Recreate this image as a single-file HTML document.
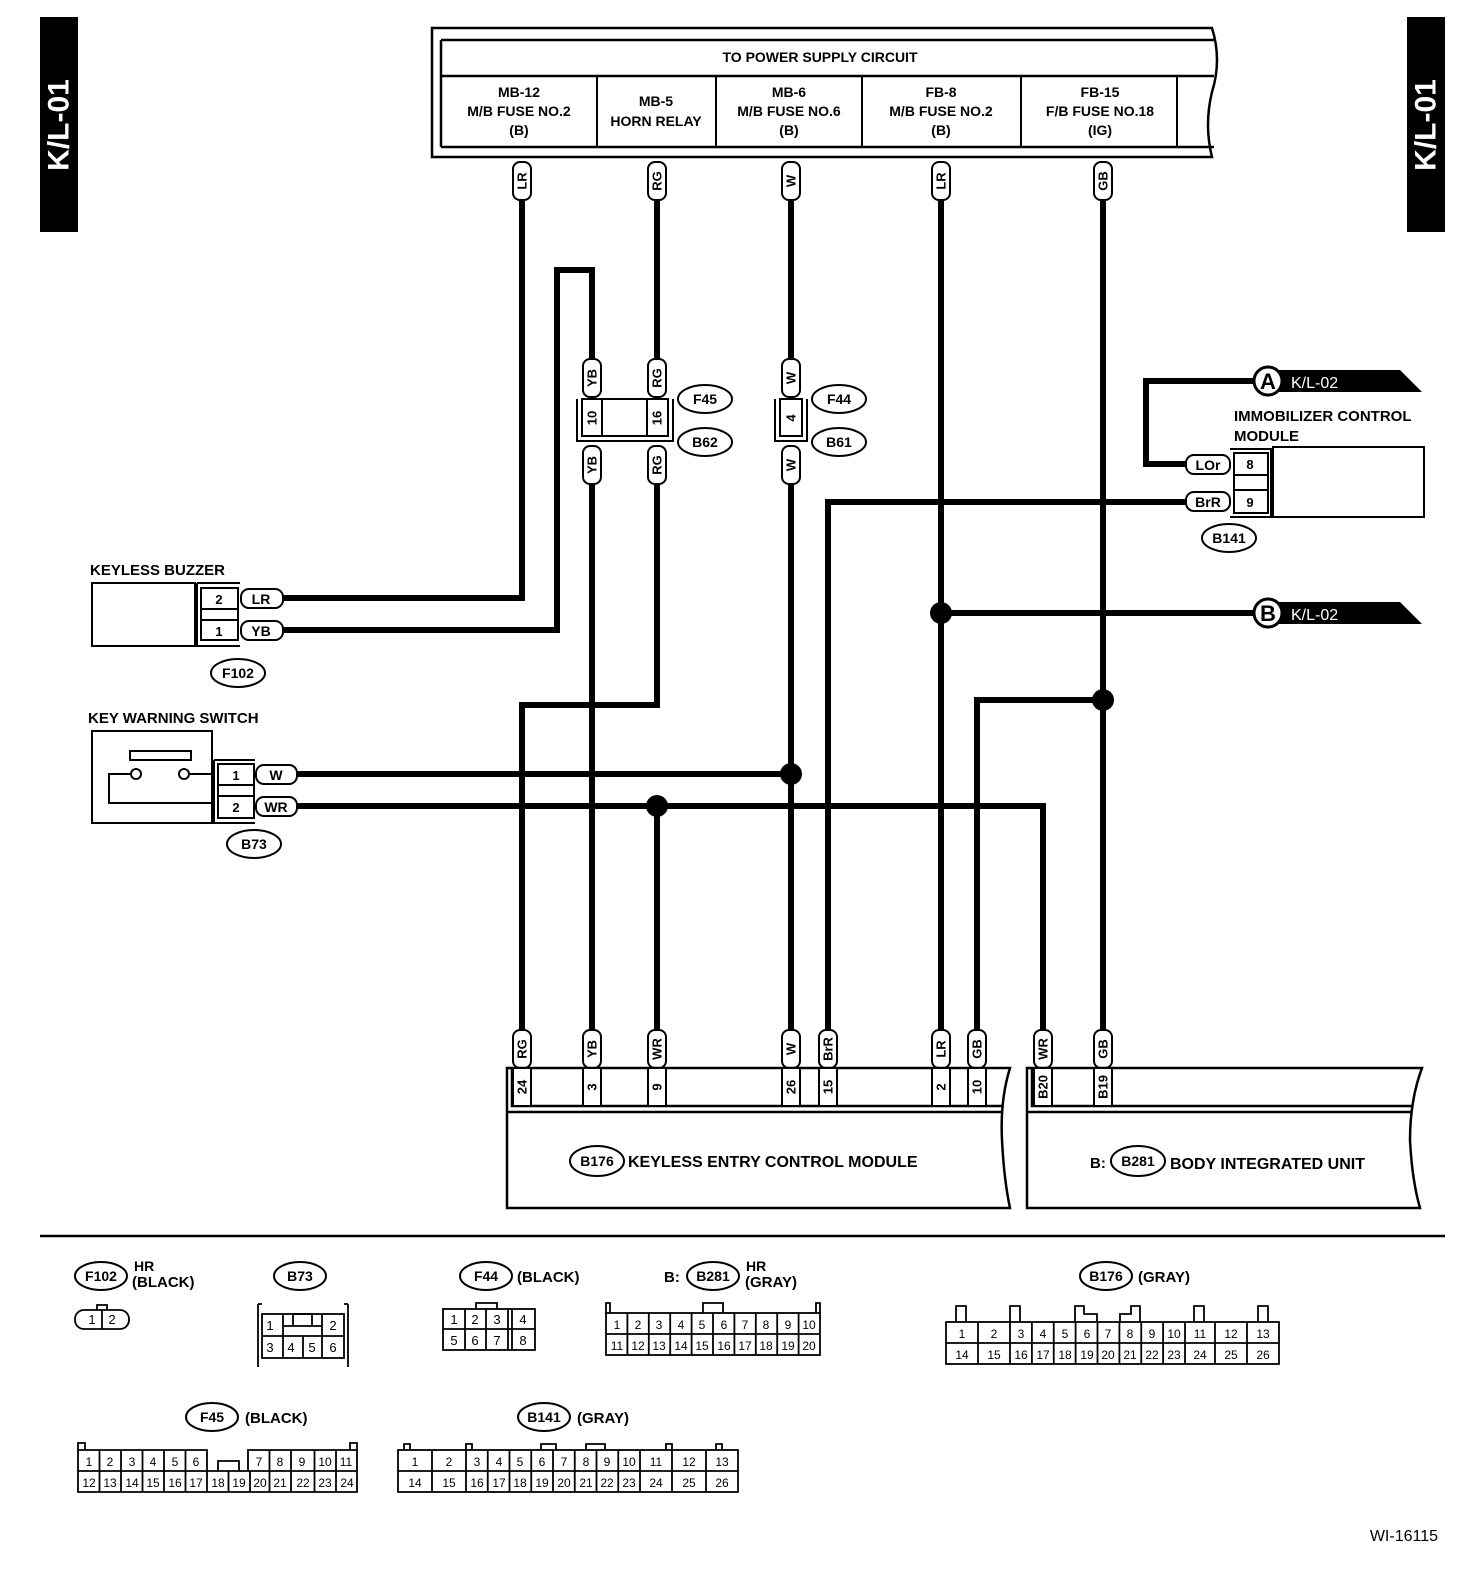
<!DOCTYPE html>
<html><head><meta charset="utf-8"><style>
html,body{margin:0;padding:0;background:#fff}
svg{display:block}
text{font-family:"Liberation Sans",Arial,sans-serif;fill:#000}
.b{font-weight:bold}
</style></head><body>
<svg width="1472" height="1576" viewBox="0 0 1472 1576" xmlns="http://www.w3.org/2000/svg">
<defs>
<g id="vp"><rect x="-9" y="-19" width="18" height="38" rx="7" fill="#fff" stroke="#000" stroke-width="2"/></g>
</defs>
<!-- tabs -->
<rect x="40" y="17" width="38" height="215" fill="#000"/>
<text transform="translate(59,125) rotate(-90)" text-anchor="middle" dominant-baseline="central" font-size="30" class="b" style="fill:#fff">K/L-01</text>
<rect x="1407" y="17" width="38" height="215" fill="#000"/>
<text transform="translate(1426,125) rotate(-90)" text-anchor="middle" dominant-baseline="central" font-size="30" class="b" style="fill:#fff">K/L-01</text>

<!-- top power box -->
<path d="M432,28 H1212 Q1222,60 1212,92 Q1204,125 1212,157 H432 Z" fill="#fff" stroke="#000" stroke-width="2.5"/>
<path d="M441,40 H1214 M441,147 H1214 M441,40 V147 M441,76 H1214" fill="none" stroke="#000" stroke-width="2.5"/>
<path d="M597,76 V147 M716,76 V147 M862,76 V147 M1021,76 V147 M1177,76 V147" stroke="#000" stroke-width="2"/>
<g font-size="14" class="b" text-anchor="middle">
<text x="820" y="62">TO POWER SUPPLY CIRCUIT</text>
<text x="519" y="97">MB-12</text><text x="519" y="116">M/B FUSE NO.2</text><text x="519" y="135">(B)</text>
<text x="656" y="106">MB-5</text><text x="656" y="126">HORN RELAY</text>
<text x="789" y="97">MB-6</text><text x="789" y="116">M/B FUSE NO.6</text><text x="789" y="135">(B)</text>
<text x="941" y="97">FB-8</text><text x="941" y="116">M/B FUSE NO.2</text><text x="941" y="135">(B)</text>
<text x="1100" y="97">FB-15</text><text x="1100" y="116">F/B FUSE NO.18</text><text x="1100" y="135">(IG)</text>
</g>

<!-- wires -->
<g fill="none" stroke="#000" stroke-width="6">
<path d="M522,200 V598 H283"/>
<path d="M283,630 H557 V270 H592 V358"/>
<path d="M592,485 V1030"/>
<path d="M657,200 V358 M657,485 V705 H522 V1030"/>
<path d="M791,200 V358 M791,485 V1030"/>
<path d="M297,774 H791"/>
<path d="M297,806 H1043 V1030"/>
<path d="M657,806 V1030"/>
<path d="M828,1030 V502 H1187"/>
<path d="M941,200 V1030 M941,613 H1255"/>
<path d="M1103,200 V1030 M1103,700 H977 V1030"/>
<path d="M1187,464 H1146 V381 H1255"/>
</g>
<g fill="#000"><circle cx="791" cy="774" r="11"/><circle cx="657" cy="806" r="11"/><circle cx="941" cy="613" r="11"/><circle cx="1103" cy="700" r="11"/></g>

<!-- vertical pills -->
<g font-size="13" class="b">
<g transform="translate(522,181)"><use href="#vp"/><text transform="rotate(-90)" text-anchor="middle" dominant-baseline="central">LR</text></g>
<g transform="translate(657,181)"><use href="#vp"/><text transform="rotate(-90)" text-anchor="middle" dominant-baseline="central">RG</text></g>
<g transform="translate(791,181)"><use href="#vp"/><text transform="rotate(-90)" text-anchor="middle" dominant-baseline="central">W</text></g>
<g transform="translate(941,181)"><use href="#vp"/><text transform="rotate(-90)" text-anchor="middle" dominant-baseline="central">LR</text></g>
<g transform="translate(1103,181)"><use href="#vp"/><text transform="rotate(-90)" text-anchor="middle" dominant-baseline="central">GB</text></g>
<g transform="translate(592,378)"><use href="#vp"/><text transform="rotate(-90)" text-anchor="middle" dominant-baseline="central">YB</text></g>
<g transform="translate(657,378)"><use href="#vp"/><text transform="rotate(-90)" text-anchor="middle" dominant-baseline="central">RG</text></g>
<g transform="translate(791,378)"><use href="#vp"/><text transform="rotate(-90)" text-anchor="middle" dominant-baseline="central">W</text></g>
<g transform="translate(592,465)"><use href="#vp"/><text transform="rotate(-90)" text-anchor="middle" dominant-baseline="central">YB</text></g>
<g transform="translate(657,465)"><use href="#vp"/><text transform="rotate(-90)" text-anchor="middle" dominant-baseline="central">RG</text></g>
<g transform="translate(791,465)"><use href="#vp"/><text transform="rotate(-90)" text-anchor="middle" dominant-baseline="central">W</text></g>
<g transform="translate(522,1049)"><use href="#vp"/><text transform="rotate(-90)" text-anchor="middle" dominant-baseline="central">RG</text></g>
<g transform="translate(592,1049)"><use href="#vp"/><text transform="rotate(-90)" text-anchor="middle" dominant-baseline="central">YB</text></g>
<g transform="translate(657,1049)"><use href="#vp"/><text transform="rotate(-90)" text-anchor="middle" dominant-baseline="central">WR</text></g>
<g transform="translate(791,1049)"><use href="#vp"/><text transform="rotate(-90)" text-anchor="middle" dominant-baseline="central">W</text></g>
<g transform="translate(828,1049)"><use href="#vp"/><text transform="rotate(-90)" text-anchor="middle" dominant-baseline="central">BrR</text></g>
<g transform="translate(941,1049)"><use href="#vp"/><text transform="rotate(-90)" text-anchor="middle" dominant-baseline="central">LR</text></g>
<g transform="translate(977,1049)"><use href="#vp"/><text transform="rotate(-90)" text-anchor="middle" dominant-baseline="central">GB</text></g>
<g transform="translate(1043,1049)"><use href="#vp"/><text transform="rotate(-90)" text-anchor="middle" dominant-baseline="central">WR</text></g>
<g transform="translate(1103,1049)"><use href="#vp"/><text transform="rotate(-90)" text-anchor="middle" dominant-baseline="central">GB</text></g>
</g>

<!-- F45/B62 connector -->
<g fill="none" stroke="#000" stroke-width="2">
<rect x="582" y="399" width="86" height="37" fill="#fff"/>
<path d="M602,399 V436 M647,399 V436"/>
<path d="M577,399 V441 H673 V399"/>
<rect x="780" y="399" width="22" height="37" fill="#fff"/>
<path d="M775,399 V441 H807 V399"/>
</g>
<g font-size="13" class="b">
<text transform="translate(592,418) rotate(-90)" text-anchor="middle" dominant-baseline="central">10</text>
<text transform="translate(657,418) rotate(-90)" text-anchor="middle" dominant-baseline="central">16</text>
<text transform="translate(791,418) rotate(-90)" text-anchor="middle" dominant-baseline="central">4</text>
</g>
<g fill="#fff" stroke="#000" stroke-width="2"><ellipse cx="705" cy="399" rx="27" ry="14"/><ellipse cx="705" cy="442" rx="27" ry="14"/><ellipse cx="839" cy="399" rx="27" ry="14"/><ellipse cx="839" cy="442" rx="27" ry="14"/></g>
<g font-size="14" class="b" text-anchor="middle"><text x="705" y="404">F45</text><text x="705" y="447">B62</text><text x="839" y="404">F44</text><text x="839" y="447">B61</text></g>

<!-- A / B flags -->
<polygon points="1275,370 1400,370 1422,392 1275,392" fill="#000"/>
<circle cx="1268" cy="381" r="14" fill="#fff" stroke="#000" stroke-width="3"/>
<text x="1268" y="389" font-size="22" class="b" text-anchor="middle">A</text>
<text x="1291" y="388" font-size="16" style="fill:#fff">K/L-02</text>
<polygon points="1275,602 1400,602 1422,624 1275,624" fill="#000"/>
<circle cx="1268" cy="613" r="14" fill="#fff" stroke="#000" stroke-width="3"/>
<text x="1268" y="621" font-size="22" class="b" text-anchor="middle">B</text>
<text x="1291" y="620" font-size="16" style="fill:#fff">K/L-02</text>

<!-- immobilizer -->
<text x="1234" y="421" font-size="15" class="b">IMMOBILIZER CONTROL</text>
<text x="1234" y="441" font-size="15" class="b">MODULE</text>
<rect x="1273" y="447" width="151" height="70" fill="#fff" stroke="#000" stroke-width="2"/>
<path d="M1230,449 H1271 V517 H1230" fill="none" stroke="#000" stroke-width="2"/>
<rect x="1234" y="453" width="34" height="60" fill="#fff" stroke="#000" stroke-width="2"/>
<path d="M1234,475 H1268 M1234,490 H1268" stroke="#000" stroke-width="2"/>
<text x="1250" y="469" font-size="13" class="b" text-anchor="middle">8</text>
<text x="1250" y="507" font-size="13" class="b" text-anchor="middle">9</text>
<rect x="1186" y="455" width="44" height="19" rx="8" fill="#fff" stroke="#000" stroke-width="2"/>
<rect x="1186" y="492" width="44" height="19" rx="8" fill="#fff" stroke="#000" stroke-width="2"/>
<text x="1208" y="470" font-size="14" class="b" text-anchor="middle">LOr</text>
<text x="1208" y="507" font-size="14" class="b" text-anchor="middle">BrR</text>
<ellipse cx="1229" cy="538" rx="27" ry="14" fill="#fff" stroke="#000" stroke-width="2"/>
<text x="1229" y="543" font-size="14" class="b" text-anchor="middle">B141</text>

<!-- keyless buzzer -->
<text x="90" y="575" font-size="15" class="b">KEYLESS BUZZER</text>
<rect x="92" y="583" width="103" height="63" fill="#fff" stroke="#000" stroke-width="2"/>
<path d="M197,583 H240 M197,583 V646 H240" fill="none" stroke="#000" stroke-width="2"/>
<rect x="201" y="588" width="37" height="52" fill="#fff" stroke="#000" stroke-width="2"/>
<path d="M201,609 H238 M201,620 H238" stroke="#000" stroke-width="2"/>
<text x="219" y="604" font-size="13" class="b" text-anchor="middle">2</text>
<text x="219" y="636" font-size="13" class="b" text-anchor="middle">1</text>
<rect x="241" y="589" width="42" height="19" rx="8" fill="#fff" stroke="#000" stroke-width="2"/>
<rect x="241" y="621" width="42" height="19" rx="8" fill="#fff" stroke="#000" stroke-width="2"/>
<text x="261" y="604" font-size="14" class="b" text-anchor="middle">LR</text>
<text x="261" y="636" font-size="14" class="b" text-anchor="middle">YB</text>
<ellipse cx="238" cy="673" rx="27" ry="14" fill="#fff" stroke="#000" stroke-width="2"/>
<text x="238" y="678" font-size="14" class="b" text-anchor="middle">F102</text>

<!-- key warning switch -->
<text x="88" y="723" font-size="15" class="b">KEY WARNING SWITCH</text>
<rect x="92" y="731" width="120" height="92" fill="#fff" stroke="#000" stroke-width="2"/>
<rect x="130" y="751" width="61" height="9" fill="#fff" stroke="#000" stroke-width="2"/>
<path d="M130,774 H109 V803 H212 M190,774 H212" fill="none" stroke="#000" stroke-width="2"/>
<circle cx="136" cy="774" r="5" fill="#fff" stroke="#000" stroke-width="2"/>
<circle cx="184" cy="774" r="5" fill="#fff" stroke="#000" stroke-width="2"/>
<path d="M214,760 H255 M214,760 V823 H255" fill="none" stroke="#000" stroke-width="2"/>
<rect x="218" y="764" width="36" height="54" fill="#fff" stroke="#000" stroke-width="2"/>
<path d="M218,785 H254 M218,796 H254" stroke="#000" stroke-width="2"/>
<text x="236" y="780" font-size="13" class="b" text-anchor="middle">1</text>
<text x="236" y="812" font-size="13" class="b" text-anchor="middle">2</text>
<rect x="256" y="765" width="41" height="19" rx="8" fill="#fff" stroke="#000" stroke-width="2"/>
<rect x="256" y="797" width="41" height="19" rx="8" fill="#fff" stroke="#000" stroke-width="2"/>
<text x="276" y="780" font-size="14" class="b" text-anchor="middle">W</text>
<text x="276" y="812" font-size="14" class="b" text-anchor="middle">WR</text>
<ellipse cx="254" cy="844" rx="27" ry="14" fill="#fff" stroke="#000" stroke-width="2"/>
<text x="254" y="849" font-size="14" class="b" text-anchor="middle">B73</text>

<!-- bottom modules -->
<path d="M507,1068 H1010 Q1000,1100 1002,1140 Q1004,1180 1010,1208 H507 Z" fill="#fff" stroke="#000" stroke-width="2.5"/>
<path d="M512,1068 V1106 H1003 M507,1112 H1003" fill="none" stroke="#000" stroke-width="2.5"/>
<path d="M1027,1068 H1422 Q1410,1100 1410,1140 Q1412,1180 1420,1208 H1027 Z" fill="#fff" stroke="#000" stroke-width="2.5"/>
<path d="M1032,1068 V1106 H1412 M1027,1112 H1411" fill="none" stroke="#000" stroke-width="2.5"/>
<g fill="#fff" stroke="#000" stroke-width="2">
<rect x="513" y="1068" width="18" height="38"/><rect x="583" y="1068" width="18" height="38"/><rect x="648" y="1068" width="18" height="38"/>
<rect x="782" y="1068" width="18" height="38"/><rect x="819" y="1068" width="18" height="38"/><rect x="932" y="1068" width="18" height="38"/>
<rect x="968" y="1068" width="18" height="38"/><rect x="1034" y="1068" width="18" height="38"/><rect x="1094" y="1068" width="18" height="38"/>
</g>
<g font-size="13" class="b">
<text transform="translate(522,1087) rotate(-90)" text-anchor="middle" dominant-baseline="central">24</text>
<text transform="translate(592,1087) rotate(-90)" text-anchor="middle" dominant-baseline="central">3</text>
<text transform="translate(657,1087) rotate(-90)" text-anchor="middle" dominant-baseline="central">9</text>
<text transform="translate(791,1087) rotate(-90)" text-anchor="middle" dominant-baseline="central">26</text>
<text transform="translate(828,1087) rotate(-90)" text-anchor="middle" dominant-baseline="central">15</text>
<text transform="translate(941,1087) rotate(-90)" text-anchor="middle" dominant-baseline="central">2</text>
<text transform="translate(977,1087) rotate(-90)" text-anchor="middle" dominant-baseline="central">10</text>
<text transform="translate(1043,1087) rotate(-90)" text-anchor="middle" dominant-baseline="central">B20</text>
<text transform="translate(1103,1087) rotate(-90)" text-anchor="middle" dominant-baseline="central">B19</text>
</g>
<ellipse cx="597" cy="1161" rx="27" ry="15" fill="#fff" stroke="#000" stroke-width="2"/>
<text x="597" y="1166" font-size="14" class="b" text-anchor="middle">B176</text>
<text x="628" y="1167" font-size="16" class="b">KEYLESS ENTRY CONTROL MODULE</text>
<text x="1090" y="1168" font-size="15" class="b">B:</text>
<ellipse cx="1138" cy="1161" rx="27" ry="15" fill="#fff" stroke="#000" stroke-width="2"/>
<text x="1138" y="1166" font-size="14" class="b" text-anchor="middle">B281</text>
<text x="1170" y="1169" font-size="16" class="b">BODY INTEGRATED UNIT</text>

<line x1="40" y1="1236" x2="1445" y2="1236" stroke="#000" stroke-width="2.5"/>

<!-- connector pictures -->
<g fill="#fff" stroke="#000" stroke-width="2">
<ellipse cx="101" cy="1276" rx="26" ry="14"/><ellipse cx="300" cy="1276" rx="26" ry="14"/><ellipse cx="486" cy="1276" rx="26" ry="14"/>
<ellipse cx="713" cy="1276" rx="26" ry="14"/><ellipse cx="1106" cy="1276" rx="26" ry="14"/><ellipse cx="212" cy="1417" rx="26" ry="14"/><ellipse cx="544" cy="1417" rx="26" ry="14"/>
</g>
<g font-size="14" class="b" text-anchor="middle">
<text x="101" y="1281">F102</text><text x="300" y="1281">B73</text><text x="486" y="1281">F44</text><text x="713" y="1281">B281</text><text x="1106" y="1281">B176</text><text x="212" y="1422">F45</text><text x="544" y="1422">B141</text>
</g>
<g font-size="15" class="b">
<text x="134" y="1271" font-size="14">HR</text><text x="132" y="1287">(BLACK)</text>
<text x="517" y="1282">(BLACK)</text>
<text x="664" y="1282">B:</text><text x="746" y="1271" font-size="14">HR</text><text x="745" y="1287">(GRAY)</text>
<text x="1138" y="1282">(GRAY)</text>
<text x="245" y="1423">(BLACK)</text>
<text x="577" y="1423">(GRAY)</text>
</g>

<g fill="none" stroke="#000" stroke-width="1.8">
<!-- F102 -->
<rect x="75" y="1310" width="54" height="19" rx="9"/><path d="M102,1310 V1329 M97,1310 V1305 H107 V1310"/>
<!-- B73 -->
<rect x="262" y="1314" width="82" height="44"/><path d="M262,1336 H344 M283,1314 V1358 M322,1314 V1358 M303,1336 V1358 M283,1326 H322 M293,1326 V1314 H312 V1326"/>
<path d="M258,1304 V1367 M262,1304 H258 M348,1304 V1367 M344,1304 H348"/>
<!-- F44 -->
<rect x="443" y="1309" width="92" height="41"/><path d="M443,1329 H535 M465,1309 V1350 M486,1309 V1350 M508,1309 V1350 M512,1309 V1350 M476,1309 V1303 H497 V1309"/>
<!-- B281 -->
<rect x="606" y="1313" width="214" height="42"/><path d="M606,1334 H820 M627.4,1313 V1355 M648.8,1313 V1355 M670.2,1313 V1355 M691.6,1313 V1355 M713,1313 V1355 M734.4,1313 V1355 M755.8,1313 V1355 M777.2,1313 V1355 M798.6,1313 V1355 M703,1313 V1303 H723 V1313 M606,1313 V1303 H610 V1313 M820,1313 V1303 H816 V1313"/>
<!-- B176 -->
<rect x="946" y="1322" width="333" height="42"/><path d="M946,1343 H1279 M978,1322 V1364 M1010,1322 V1364 M1031.9,1322 V1364 M1053.75,1322 V1364 M1075.6,1322 V1364 M1097.5,1322 V1364 M1119.4,1322 V1364 M1141.25,1322 V1364 M1163.1,1322 V1364 M1185,1322 V1364 M1215,1322 V1364 M1247,1322 V1364"/>
<path d="M956,1322 V1306 H966 V1322 M1010,1322 V1306 H1020 V1322 M1075,1322 V1306 H1084 V1314 H1097 V1322 M1120,1322 V1314 H1131 V1306 H1140 V1322 M1194,1322 V1306 H1204 V1322 M1258,1322 V1306 H1268 V1322"/>
<!-- F45 -->
<path d="M78,1450 H207 V1471 H78 Z M248,1450 H357 V1471 H248 Z M78,1471 H357 V1492 H78 Z"/>
<path d="M99.5,1450 V1492 M121,1450 V1492 M142.5,1450 V1492 M164,1450 V1492 M185.5,1450 V1492 M207,1471 V1492 M228.5,1471 V1492 M250,1471 V1492 M269.5,1450 V1492 M291,1450 V1492 M314.5,1450 V1492 M336,1450 V1492 M218,1471 V1461 H239 V1471 M78,1450 V1443 H85 V1450 M357,1450 V1443 H350 V1450"/>
<!-- B141 -->
<rect x="398" y="1450" width="340" height="42"/><path d="M398,1471 H738 M432,1450 V1492 M466,1450 V1492 M487.75,1450 V1492 M509.5,1450 V1492 M531.25,1450 V1492 M553,1450 V1492 M574.75,1450 V1492 M596.5,1450 V1492 M618.25,1450 V1492 M640,1450 V1492 M672,1450 V1492 M706,1450 V1492"/>
<path d="M404,1450 V1444 H410 V1450 M466,1450 V1444 H472 V1450 M541,1450 V1444 H556 V1450 M586,1450 V1444 H605 V1450 M666,1450 V1444 H672 V1450 M716,1450 V1444 H722 V1450"/>
</g>
<g font-size="13" text-anchor="middle">
<text x="92" y="1324">1</text><text x="112" y="1324">2</text>
<text x="270" y="1330">1</text><text x="333" y="1330">2</text><text x="270" y="1352">3</text><text x="291" y="1352">4</text><text x="312" y="1352">5</text><text x="333" y="1352">6</text>
<text x="454" y="1324">1</text><text x="475" y="1324">2</text><text x="497" y="1324">3</text><text x="523" y="1324">4</text><text x="454" y="1345">5</text><text x="475" y="1345">6</text><text x="497" y="1345">7</text><text x="523" y="1345">8</text>
</g>
<g font-size="12" text-anchor="middle">
<text x="617" y="1329">1</text><text x="638" y="1329">2</text><text x="659" y="1329">3</text><text x="681" y="1329">4</text><text x="702" y="1329">5</text><text x="724" y="1329">6</text><text x="745" y="1329">7</text><text x="766" y="1329">8</text><text x="788" y="1329">9</text><text x="809" y="1329">10</text>
<text x="617" y="1350">11</text><text x="638" y="1350">12</text><text x="659" y="1350">13</text><text x="681" y="1350">14</text><text x="702" y="1350">15</text><text x="724" y="1350">16</text><text x="745" y="1350">17</text><text x="766" y="1350">18</text><text x="788" y="1350">19</text><text x="809" y="1350">20</text>
<text x="962" y="1338">1</text><text x="994" y="1338">2</text><text x="1021" y="1338">3</text><text x="1043" y="1338">4</text><text x="1065" y="1338">5</text><text x="1087" y="1338">6</text><text x="1108" y="1338">7</text><text x="1130" y="1338">8</text><text x="1152" y="1338">9</text><text x="1174" y="1338">10</text><text x="1200" y="1338">11</text><text x="1231" y="1338">12</text><text x="1263" y="1338">13</text>
<text x="962" y="1359">14</text><text x="994" y="1359">15</text><text x="1021" y="1359">16</text><text x="1043" y="1359">17</text><text x="1065" y="1359">18</text><text x="1087" y="1359">19</text><text x="1108" y="1359">20</text><text x="1130" y="1359">21</text><text x="1152" y="1359">22</text><text x="1174" y="1359">23</text><text x="1200" y="1359">24</text><text x="1231" y="1359">25</text><text x="1263" y="1359">26</text>
<text x="89" y="1466">1</text><text x="110" y="1466">2</text><text x="132" y="1466">3</text><text x="153" y="1466">4</text><text x="175" y="1466">5</text><text x="196" y="1466">6</text><text x="259" y="1466">7</text><text x="280" y="1466">8</text><text x="302" y="1466">9</text><text x="325" y="1466">10</text><text x="346" y="1466">11</text>
<text x="89" y="1487">12</text><text x="110" y="1487">13</text><text x="132" y="1487">14</text><text x="153" y="1487">15</text><text x="175" y="1487">16</text><text x="196" y="1487">17</text><text x="218" y="1487">18</text><text x="239" y="1487">19</text><text x="260" y="1487">20</text><text x="280" y="1487">21</text><text x="303" y="1487">22</text><text x="325" y="1487">23</text><text x="347" y="1487">24</text>
<text x="415" y="1466">1</text><text x="449" y="1466">2</text><text x="477" y="1466">3</text><text x="499" y="1466">4</text><text x="520" y="1466">5</text><text x="542" y="1466">6</text><text x="564" y="1466">7</text><text x="586" y="1466">8</text><text x="607" y="1466">9</text><text x="629" y="1466">10</text><text x="656" y="1466">11</text><text x="689" y="1466">12</text><text x="722" y="1466">13</text>
<text x="415" y="1487">14</text><text x="449" y="1487">15</text><text x="477" y="1487">16</text><text x="499" y="1487">17</text><text x="520" y="1487">18</text><text x="542" y="1487">19</text><text x="564" y="1487">20</text><text x="586" y="1487">21</text><text x="607" y="1487">22</text><text x="629" y="1487">23</text><text x="656" y="1487">24</text><text x="689" y="1487">25</text><text x="722" y="1487">26</text>
</g>
<text x="1438" y="1541" font-size="16" text-anchor="end">WI-16115</text>
</svg>
</body></html>
